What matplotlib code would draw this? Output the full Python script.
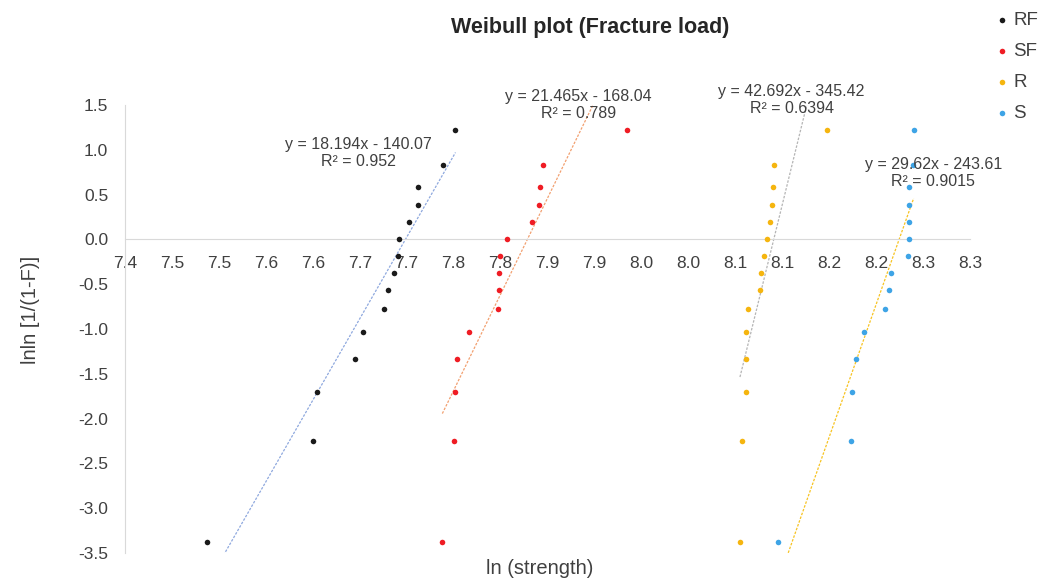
import matplotlib
matplotlib.use('Agg')
import matplotlib.pyplot as plt
import numpy as np

# lnln[1/(1-F)] levels shared by all series
weibull_y = [-3.38, -2.25, -1.70, -1.33, -1.03, -0.78, -0.57, -0.37,
             -0.18, 0.00, 0.19, 0.38, 0.58, 0.83, 1.22]

# ln(strength) values per group
rf_x = [7.487, 7.600, 7.604, 7.645, 7.653, 7.676, 7.680, 7.686,
        7.691, 7.692, 7.703, 7.712, 7.712, 7.739, 7.752]
sf_x = [7.738, 7.750, 7.751, 7.754, 7.766, 7.797, 7.798, 7.798,
        7.799, 7.807, 7.833, 7.841, 7.842, 7.845, 7.935]
r_x = [8.055, 8.057, 8.061, 8.061, 8.061, 8.064, 8.076, 8.077,
       8.081, 8.084, 8.087, 8.089, 8.090, 8.091, 8.148]
s_x = [8.095, 8.173, 8.174, 8.179, 8.187, 8.209, 8.214, 8.216,
       8.234, 8.235, 8.235, 8.235, 8.235, 8.239, 8.240]

series_names = ['RF', 'SF', 'R', 'S']
slopes = [18.194, 21.465, 42.692, 29.62]
intercepts = [-140.07, -168.04, -345.42, -243.61]
r_squared = ['0.952', '0.789', '0.6394', '0.9015']

x_tick_labels = ['7.4', '7.5', '7.5', '7.6', '7.6', '7.7', '7.7', '7.8', '7.8', '7.9',
                 '7.9', '8.0', '8.0', '8.1', '8.1', '8.2', '8.2', '8.3', '8.3']
y_tick_labels = ['-3.5', '-3.0', '-2.5', '-2.0', '-1.5', '-1.0', '-0.5',
                 '0.0', '0.5', '1.0', '1.5']

point_colors = ['#1a1a1a', '#ef1c24', '#f5b50f', '#3ea4e6']
trend_colors = ['#8ea8de', '#f2a070', '#b5b5b5', '#f7c321']
# where each equation label sits (data coords)
label_pos = [(7.649, 0.965), (7.883, 1.50), (8.110, 1.555), (8.261, 0.74)]

plt.rcParams['font.family'] = ['Liberation Sans', 'DejaVu Sans']
plt.rcParams['axes.unicode_minus'] = False

fig = plt.figure(figsize=(10.39, 5.82), dpi=100)
ax = fig.add_axes([125 / 1039, 1 - 553 / 582, 845 / 1039, 448 / 582])

all_x = [rf_x, sf_x, r_x, s_x]
for i, xs in enumerate(all_x):
    ax.scatter(xs, weibull_y, s=16, color=point_colors[i], label=series_names[i],
               zorder=3, linewidths=0)
    xl = np.array([min(xs), max(xs)])
    ax.plot(xl, slopes[i] * xl + intercepts[i], color=trend_colors[i],
            lw=0.9, linestyle=(0, (2, 1.2)), zorder=2)
    eq = f'y = {slopes[i]}x - {abs(intercepts[i]):.2f}\nR² = {r_squared[i]}'
    ax.text(label_pos[i][0], label_pos[i][1], eq, ha='center', va='center',
            fontsize=11.5, color='#404040', linespacing=1.15, zorder=4)

ax.set_xlim(7.4, 8.3)
ax.set_ylim(-3.5, 1.5)
ax.set_xticks(np.linspace(7.4, 8.3, 19))
ax.set_xticklabels(x_tick_labels)
ax.set_yticks(np.linspace(-3.5, 1.5, 11))
ax.set_yticklabels(y_tick_labels)
ax.tick_params(axis='both', length=0, labelsize=12.5, labelcolor='#404040')
ax.tick_params(axis='x', pad=12)
ax.tick_params(axis='y', pad=12)

ax.spines['bottom'].set_position(('data', 0))
ax.spines['bottom'].set_color('#d9d9d9')
ax.spines['left'].set_color('#d9d9d9')
ax.spines['top'].set_visible(False)
ax.spines['right'].set_visible(False)

fig.text(590 / 1039, 1 - 28 / 582, 'Weibull plot (Fracture load)', ha='center',
         va='center', fontsize=15.5, fontweight='bold', color='#262626')
fig.text(540 / 1039, 1 - 568 / 582, 'ln (strength)', ha='center', va='center',
         fontsize=14.5, color='#404040')
fig.text(30 / 1039, 1 - 310 / 582, 'lnln [1/(1-F)]', ha='center', va='center',
         rotation=90, fontsize=14.5, color='#404040')

fig.legend(loc='upper left', bbox_to_anchor=(985 / 1039, 1 - 4 / 582), frameon=False,
           fontsize=13.5, handletextpad=0.1, labelspacing=0.75, markerscale=1.0,
           handlelength=1.0, borderaxespad=0, labelcolor='#404040')

fig.savefig('out.png', dpi=100)
